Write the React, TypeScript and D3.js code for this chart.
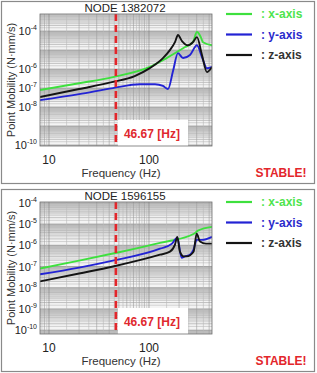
import React from "react";
import * as d3 from "d3";

const W = 317;
const H = 373;

const FONT = "'Liberation Sans', Arial, Helvetica, sans-serif";

// shared frequency axis
const freqDomain: [number, number] = [8.13, 427];
const xTickValues = [10, 100];
const cutoffHz = 46.67;

const seriesNames = ["x-axis", "y-axis", "z-axis"];
const seriesColors = ["#3ee03e", "#2323d4", "#141414"];
const legendTextColors = ["#4ee44e", "#2b2bcc", "#333333"];

// NODE 1382072
const node1Title = "NODE 1382072";
const node1YExp: [number, number] = [-10.05, -3.1];
const node1YTicks = [1e-4, 1e-6, 1e-7, 1e-8, 1e-10];
const node1XFreq = [8.13, 20, 43.6, 102, 150, 230, 275, 302, 330, 347, 427];
const node1XVal = [7.9e-8, 1.8e-7, 3.8e-7, 1.3e-6, 3.8e-6, 1.45e-5, 2.6e-5, 8.9e-5, 4.8e-5, 2.6e-5, 1.8e-5];
const node1YFreq = [8.13, 20, 43.6, 81, 115, 138, 155, 174, 195, 219, 257, 302, 339, 380, 427];
const node1YVal = [2.3e-8, 4.8e-8, 1.0e-7, 1.6e-7, 1.6e-7, 1.3e-7, 8.9e-8, 7.9e-7, 6.9e-6, 3.8e-6, 5.5e-6, 1.8e-5, 4.3e-6, 1.1e-6, 1.3e-6];
const node1ZFreq = [8.13, 20, 43.6, 72, 102, 138, 162, 182, 195, 214, 245, 275, 302, 339, 380, 427];
const node1ZVal = [3.4e-8, 8.9e-8, 2.1e-7, 4.3e-7, 1.12e-6, 3.8e-6, 1.0e-5, 2.6e-5, 6.2e-5, 3.0e-5, 1.8e-5, 2.6e-5, 4.8e-5, 5.5e-6, 6.9e-7, 1.3e-6];

// NODE 1596155
const node2Title = "NODE 1596155";
const node2YExp: [number, number] = [-10.18, -3.96];
const node2YTicks = [1e-4, 1e-5, 1e-6, 1e-7, 1e-8, 1e-9, 1e-10];
const node2XFreq = [8.13, 20, 43.6, 129, 282, 309, 427];
const node2XVal = [8.1e-8, 1.9e-7, 4.1e-7, 1.3e-6, 3.5e-6, 4.9e-6, 7.4e-6];
const node2YFreq = [8.13, 20, 43.6, 129, 170, 192, 212, 229, 257, 279, 300, 339, 427];
const node2YVal = [4.3e-8, 8.9e-8, 1.9e-7, 6.9e-7, 1.2e-6, 2.3e-6, 2.6e-7, 3.0e-7, 3.6e-7, 6.3e-7, 1.8e-6, 1.8e-6, 2.5e-6];
const node2ZFreq = [8.13, 20, 43.6, 129, 162, 182, 192, 204, 222, 239, 279, 300, 324, 372, 427];
const node2ZVal = [2.0e-8, 4.7e-8, 1.0e-7, 3.6e-7, 5.0e-7, 1.07e-6, 2.5e-6, 5.0e-7, 3.0e-7, 3.0e-7, 5.0e-7, 3.5e-6, 1.5e-6, 1.2e-6, 1.2e-6];

const gridSteps = [1, 1.5, 2, 2.5, 3, 3.5, 4, 4.5, 5, 5.5, 6, 6.5, 7, 7.5, 8, 8.5, 9, 9.5];

type PanelProps = {
  id: string;
  top: number;
  title: string;
  yExp: [number, number];
  yTicks: number[];
  series: { freq: number[]; val: number[] }[];
};

function Panel({ id, top, title, yExp, yTicks, series }: PanelProps) {
  const left = 40;
  const right = 212;
  const pTop = top + 13;
  const pBottom = top + 145;
  const x = d3.scaleLog().domain(freqDomain).range([left, right]);
  const y = d3
    .scaleLog()
    .domain([Math.pow(10, yExp[0]), Math.pow(10, yExp[1])])
    .range([pBottom, pTop]);

  const hLines: { v: number; k: number }[] = [];
  for (let e = -11; e <= -3; e++) {
    for (const k of gridSteps) {
      const v = k * Math.pow(10, e);
      if (v > y.domain()[0] && v < y.domain()[1]) hLines.push({ v, k });
    }
  }
  const vLines: { v: number; k: number }[] = [];
  for (let e = 0; e <= 2; e++) {
    for (const k of gridSteps) {
      const v = k * Math.pow(10, e);
      if (v > freqDomain[0] && v < freqDomain[1]) vLines.push({ v, k });
    }
  }
  const gridColor = (k: number) => (k === 1 ? "#7c7c7c" : Number.isInteger(k) ? "#9c9c9c" : "#bababa");

  const line = d3
    .line<[number, number]>()
    .x((d) => x(d[0]))
    .y((d) => y(d[1]))
    .curve(d3.curveMonotoneX);

  const cx = x(cutoffHz);
  const boxTop = top + 119;

  return (
    <g>
      <rect x={1.5} y={top + 0.5} width={313} height={182} fill="#ffffff" stroke="#8a8a8a" strokeWidth={1.2} />
      <text x={125} y={top + 11} textAnchor="middle" fontFamily={FONT} fontSize={11.5} fill="#222">
        {title}
      </text>
      <defs>
        <clipPath id={id}>
          <rect x={left} y={pTop} width={right - left} height={pBottom - pTop} />
        </clipPath>
      </defs>
      <rect x={left} y={pTop} width={right - left} height={pBottom - pTop} fill="#f4f4f4" />
      <g clipPath={`url(#${id})`}>
        {hLines.map((g, i) => (
          <line key={"h" + i} x1={left} x2={right} y1={y(g.v)} y2={y(g.v)} stroke={gridColor(g.k)} strokeWidth={0.6} />
        ))}
        {vLines.map((g, i) => (
          <line key={"v" + i} x1={x(g.v)} x2={x(g.v)} y1={pTop} y2={pBottom} stroke={gridColor(g.k)} strokeWidth={0.6} />
        ))}
        <rect x={cx + 2} y={boxTop} width={188 - cx - 2} height={pBottom - boxTop} fill="#ffffff" />
        {series.map((s, i) => (
          <path
            key={"s" + i}
            d={line(s.freq.map((f, j) => [f, s.val[j]] as [number, number])) || ""}
            fill="none"
            stroke={seriesColors[i]}
            strokeWidth={1.9}
            strokeLinejoin="round"
          />
        ))}
        <line x1={cx} x2={cx} y1={pTop} y2={pBottom} stroke="#e3262b" strokeWidth={2.6} strokeDasharray="7,4" />
      </g>
      <rect x={left} y={pTop} width={right - left} height={pBottom - pTop} fill="none" stroke="#6e6e6e" strokeWidth={0.8} />
      <text x={cx + 8} y={boxTop + 18} fontFamily={FONT} fontSize={12} fontWeight="bold" fill="#e0282e">
        {`${cutoffHz} [Hz]`}
      </text>
      {yTicks.map((v, i) => (
        <text key={"yt" + i} x={37} y={y(v) + 4} textAnchor="end" fontFamily={FONT} fill="#222">
          <tspan fontSize={11}>10</tspan>
          <tspan dy={-5} fontSize={7}>{`-${Math.round(-Math.log10(v))}`}</tspan>
        </text>
      ))}
      {xTickValues.map((v, i) => (
        <text key={"xt" + i} x={x(v)} y={pBottom + 18} textAnchor="middle" fontFamily={FONT} fontSize={12} fill="#222">
          {v}
        </text>
      ))}
      <text x={121} y={top + 176} textAnchor="middle" fontFamily={FONT} fontSize={11.5} fill="#333">
        Frequency (Hz)
      </text>
      <text
        transform={`translate(15,${(pTop + pBottom) / 2}) rotate(-90)`}
        textAnchor="middle"
        fontFamily={FONT}
        fontSize={11}
        fill="#333"
      >
        Point Mobility (N·mm/s)
      </text>
      {seriesNames.map((n, i) => {
        const ly = top + 13 + i * 20.5;
        return (
          <g key={"lg" + i}>
            <line x1={226} x2={252} y1={ly} y2={ly} stroke={seriesColors[i]} strokeWidth={2.2} />
            <text x={261} y={ly + 4} fontFamily={FONT} fontSize={12} fontWeight="bold" fill={legendTextColors[i]}>
              {`: ${n}`}
            </text>
          </g>
        );
      })}
      <text x={281} y={top + 176} textAnchor="middle" fontFamily={FONT} fontSize={12} fontWeight="bold" fill="#e3262b">
        STABLE!
      </text>
    </g>
  );
}

export default function App() {
  return (
    <svg
      width={W}
      height={H}
      viewBox={`0 0 ${W} ${H}`}
      style={{ position: "absolute", left: 0, top: 0, display: "block", background: "#ffffff" }}
    >
      <Panel
        id="clip-node1"
        top={1}
        title={node1Title}
        yExp={node1YExp}
        yTicks={node1YTicks}
        series={[
          { freq: node1XFreq, val: node1XVal },
          { freq: node1YFreq, val: node1YVal },
          { freq: node1ZFreq, val: node1ZVal },
        ]}
      />
      <Panel
        id="clip-node2"
        top={189}
        title={node2Title}
        yExp={node2YExp}
        yTicks={node2YTicks}
        series={[
          { freq: node2XFreq, val: node2XVal },
          { freq: node2YFreq, val: node2YVal },
          { freq: node2ZFreq, val: node2ZVal },
        ]}
      />
    </svg>
  );
}
